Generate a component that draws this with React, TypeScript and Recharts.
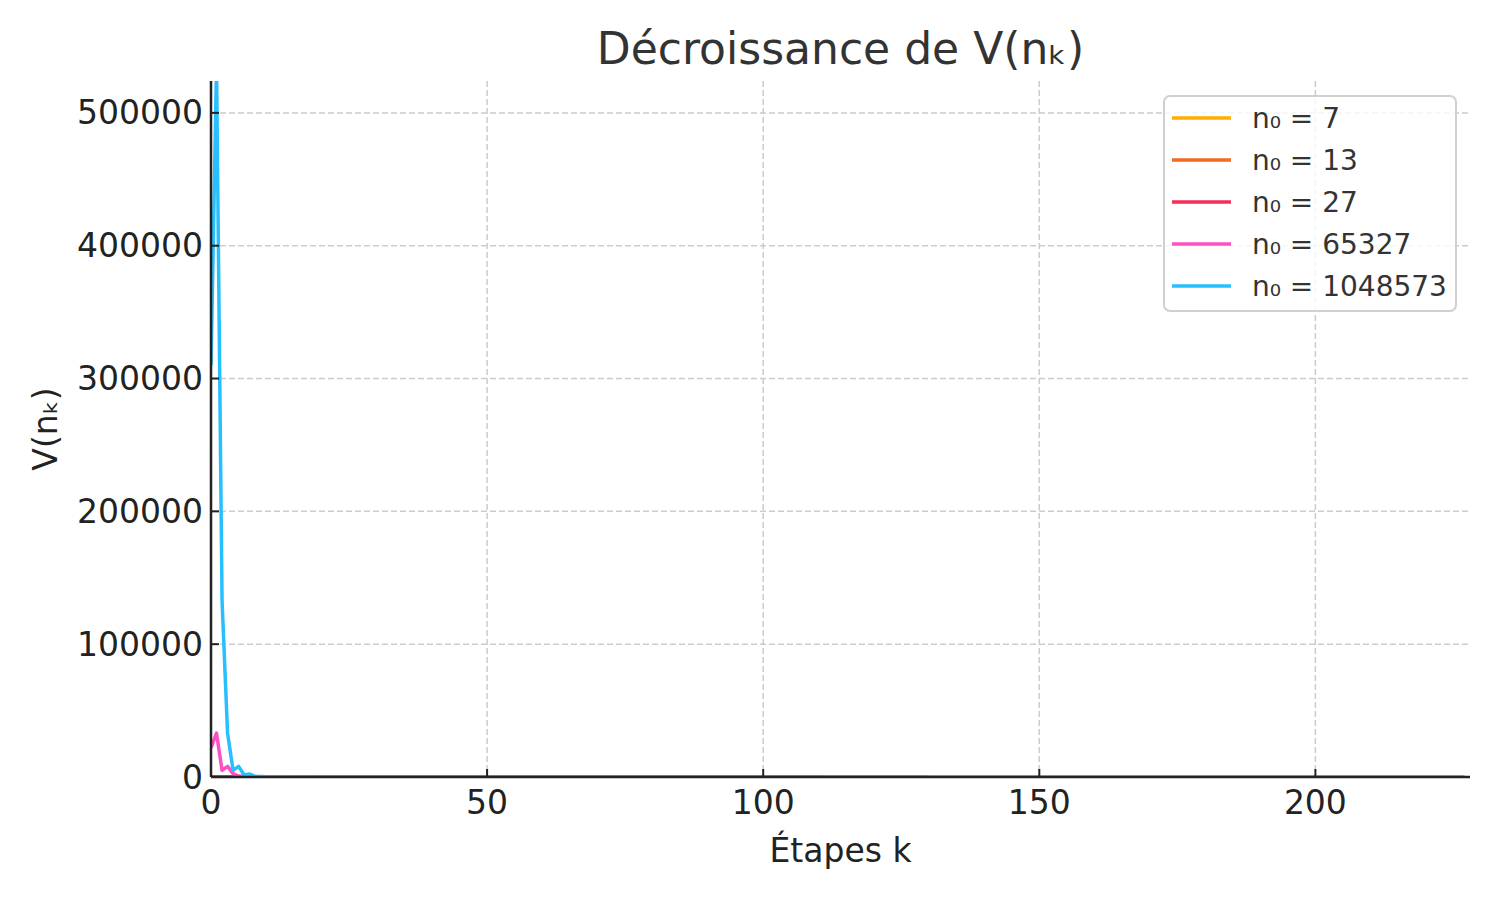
import React from "react";
import { LineChart, Line, XAxis, YAxis, CartesianGrid } from "recharts";

// ---- data (k, V(n_k)) ----
const seriesNames = ["n₀ = 7", "n₀ = 13", "n₀ = 27", "n₀ = 65327", "n₀ = 1048573"];
const seriesColors = ["#ffae00", "#f26a22", "#f52d57", "#ff4fc4", "#28bfff"];

const n7 = [
  { k: 0, v: 2 }, { k: 1, v: 7 }, { k: 2, v: 4 }, { k: 3, v: 11 }, { k: 4, v: 6 },
  { k: 5, v: 17 }, { k: 6, v: 9 }, { k: 7, v: 4 }, { k: 8, v: 13 }, { k: 9, v: 7 },
  { k: 10, v: 3 }, { k: 11, v: 2 }, { k: 12, v: 5 }, { k: 13, v: 3 }, { k: 14, v: 1 },
  { k: 15, v: 1 }, { k: 16, v: 0 },
];
const n13 = [
  { k: 0, v: 4 }, { k: 1, v: 13 }, { k: 2, v: 7 }, { k: 3, v: 13 }, { k: 4, v: 7 },
  { k: 5, v: 3 }, { k: 6, v: 2 }, { k: 7, v: 5 }, { k: 8, v: 3 }, { k: 9, v: 0 },
];
const n27 = [
  { k: 0, v: 9 }, { k: 2, v: 41 }, { k: 5, v: 31 }, { k: 10, v: 50 }, { k: 15, v: 60 },
  { k: 20, v: 70 }, { k: 30, v: 55 }, { k: 40, v: 80 }, { k: 50, v: 90 }, { k: 60, v: 110 },
  { k: 70, v: 130 }, { k: 77, v: 150 }, { k: 85, v: 60 }, { k: 95, v: 30 }, { k: 105, v: 10 },
  { k: 111, v: 0 },
];
const n65327 = [
  { k: 0, v: 22000 }, { k: 1, v: 33000 }, { k: 2, v: 5000 }, { k: 3, v: 8000 }, { k: 4, v: 2500 },
  { k: 5, v: 700 }, { k: 6, v: 300 }, { k: 7, v: 150 }, { k: 8, v: 100 }, { k: 10, v: 50 },
  { k: 15, v: 20 }, { k: 30, v: 10 }, { k: 60, v: 5 }, { k: 100, v: 2 }, { k: 130, v: 0 },
];
const n1048573 = [
  { k: 0, v: 310000 }, { k: 1, v: 535000 }, { k: 2, v: 133000 }, { k: 3, v: 33000 }, { k: 4, v: 5000 },
  { k: 5, v: 8000 }, { k: 6, v: 1500 }, { k: 7, v: 2200 }, { k: 8, v: 400 }, { k: 9, v: 300 },
  { k: 10, v: 200 }, { k: 12, v: 100 }, { k: 20, v: 60 }, { k: 40, v: 30 }, { k: 80, v: 20 },
  { k: 120, v: 10 }, { k: 160, v: 5 }, { k: 200, v: 2 }, { k: 227, v: 0 },
];
const allSeries = [n7, n13, n27, n65327, n1048573];

const xTicks = [0, 50, 100, 150, 200];
const yTicks = [0, 100000, 200000, 300000, 400000, 500000];
const xDomain = [0, 228];
const yDomain = [0, 524000];

const title = "Décroissance de V(nₖ)";
const xLabel = "Étapes k";
const yLabel = "V(nₖ)";

// ---- layout ----
const W = 1500;
const H = 900;
const PL = 211;
const PR = 1470;
const PT = 81;
const PB = 777;
const FONT = "'DejaVu Sans', 'Liberation Sans', sans-serif";
const TICK_FS = 33;

const YTick = (props: any) => {
  const { y, payload } = props;
  return (
    <g>
      <line x1={PL} x2={PL + 8} y1={y} y2={y} stroke="#222" strokeWidth={2} />
      <text x={PL - 8} y={y} dy="0.35em" textAnchor="end" fontSize={TICK_FS} fill="#222" fontFamily={FONT}>
        {payload.value}
      </text>
    </g>
  );
};

const XTick = (props: any) => {
  const { x, payload } = props;
  return (
    <g>
      <line x1={x} x2={x} y1={PB} y2={PB - 8} stroke="#222" strokeWidth={2} />
      <text x={x} y={PB + 13} dy="0.73em" textAnchor="middle" fontSize={TICK_FS} fill="#222" fontFamily={FONT}>
        {payload.value}
      </text>
    </g>
  );
};

const hGen = (args: any) => {
  const o = args && args.offset ? args.offset : { top: PT, height: PB - PT };
  return yTicks.map((t) => o.top + o.height * (1 - (t - yDomain[0]) / (yDomain[1] - yDomain[0])));
};
const vGen = (args: any) => {
  const o = args && args.offset ? args.offset : { left: PL, width: PR - PL };
  return xTicks.map((t) => o.left + o.width * ((t - xDomain[0]) / (xDomain[1] - xDomain[0])));
};

export default function App() {
  return (
    <div style={{ position: "absolute", left: 0, top: 0, width: W, height: H, background: "#fff" }}>
      <LineChart
        width={W}
        height={H}
        margin={{ top: PT, right: W - PR, bottom: 0, left: 0 }}
      >
        <CartesianGrid
          stroke="#cccccc"
          strokeWidth={1.5}
          strokeDasharray="6 3"
          horizontalCoordinatesGenerator={hGen}
          verticalCoordinatesGenerator={vGen}
        />
        <XAxis
          dataKey="k"
          type="number"
          domain={xDomain}
          ticks={xTicks}
          allowDataOverflow
          height={H - PB}
          axisLine={{ stroke: "#222", strokeWidth: 2.5 }}
          tickLine={false}
          tick={<XTick />}
          label={{
            content: () => (
              <text x={(PL + PR) / 2} y={862} textAnchor="middle" fontSize={TICK_FS} fill="#222" fontFamily={FONT}>
                {xLabel}
              </text>
            ),
          }}
        />
        <YAxis
          dataKey="v"
          type="number"
          domain={yDomain}
          ticks={yTicks}
          allowDataOverflow
          width={PL}
          axisLine={{ stroke: "#222", strokeWidth: 2.5 }}
          tickLine={false}
          tick={<YTick />}
          label={{
            content: () => (
              <text
                x={45}
                y={(PT + PB) / 2}
                transform={`rotate(-90 45 ${(PT + PB) / 2})`}
                textAnchor="middle"
                dominantBaseline="central"
                fontSize={TICK_FS}
                fill="#222"
                fontFamily={FONT}
              >
                {yLabel}
              </text>
            ),
          }}
        />
        {allSeries.map((d, i) => (
          <Line
            key={seriesNames[i]}
            data={d}
            dataKey="v"
            type="linear"
            stroke={seriesColors[i]}
            strokeWidth={3.5}
            dot={false}
            activeDot={false}
            isAnimationActive={false}
            strokeLinejoin="round"
          />
        ))}
      </LineChart>
      <svg
        width={W}
        height={H}
        style={{ position: "absolute", left: 0, top: 0, pointerEvents: "none" }}
      >
        <text x={(PL + PR) / 2} y={64} textAnchor="middle" fontSize={44} fill="#333" fontFamily={FONT}>
          {title}
        </text>
        <rect x={1164} y={96} width={292} height={215} rx={6} ry={6} fill="rgba(255,255,255,0.8)" stroke="#d0d0d0" strokeWidth={2} />
        {seriesNames.map((name, i) => (
          <g key={name}>
            <line x1={1172} x2={1231} y1={118 + i * 42} y2={118 + i * 42} stroke={seriesColors[i]} strokeWidth={3.5} />
            <text x={1252} y={118 + i * 42} dy="0.36em" fontSize={28} fill="#333" fontFamily={FONT}>
              {name}
            </text>
          </g>
        ))}
      </svg>
    </div>
  );
}
